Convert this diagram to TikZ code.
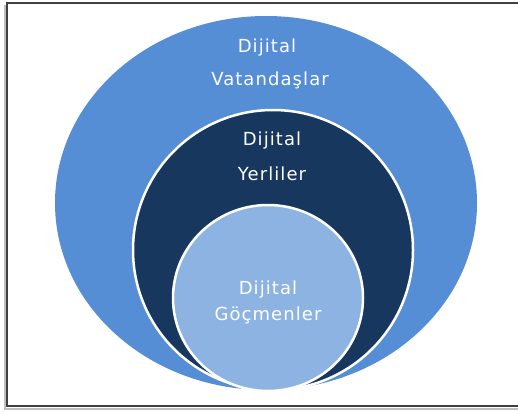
\documentclass[tikz,border=0pt]{standalone}
\usepackage{fontspec}
\usepackage{tikz}
\usetikzlibrary{shapes.geometric,positioning}

\newfontfamily\lblfont[LetterSpace=6]{DejaVu Sans}
\definecolor{vatblue}{HTML}{558ED5}
\definecolor{yerblue}{HTML}{17375E}
\definecolor{gocblue}{HTML}{8DB3E2}

\begin{document}
\begin{tikzpicture}[x=1pt, y={(0,-1pt)},
    ring/.style={draw=white, line width=2.5pt, ellipse, inner sep=0pt},
    lbl/.style={text=white, anchor=base, inner sep=0pt, font=\lblfont\fontsize{18}{18}\selectfont}]
        \useasboundingbox (0,0) rectangle (518,413);

        % Frame
        \draw[black!25, line width=1.5pt] (5,5) -- (5,409) -- (525,409);
        \draw[black!75, line width=1.5pt] (525,3) -- (7,3) -- (7,406) -- (525,406);

        % Nodes
        \node (vat) [ring, draw=none, fill=vatblue, minimum width=422pt, minimum height=374pt] at (266,203) {};
        \node (yer) [ring, fill=yerblue, minimum width=280pt, minimum height=280pt] at (273,250) {};
        \node (goc) [ring, fill=gocblue, minimum width=190pt, minimum height=186pt] at (268,298) {};

        % Labels
        \node (vat_a) [lbl] at (267,52) {Dijital};
        \node (vat_b) [lbl] at (270,85) {Vatandaşlar};
        \node (yer_a) [lbl] at (272,145) {Dijital};
        \node (yer_b) [lbl] at (272,180) {Yerliler};
        \node (goc_a) [lbl] at (268,294) {Dijital};
        \node (goc_b) [lbl] at (268,320) {Göçmenler};
    \end{tikzpicture}
\end{document}
